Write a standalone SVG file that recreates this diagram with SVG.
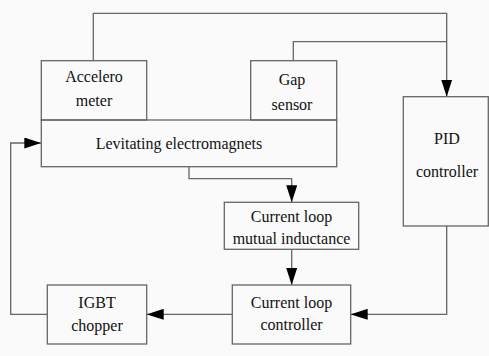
<svg xmlns="http://www.w3.org/2000/svg" width="489" height="356" viewBox="0 0 489 356">
<style>
.box{fill:none;stroke:#666;stroke-width:1.3}
.ln{fill:none;stroke:#666;stroke-width:1.3}
text{font-size:16px;fill:#111;text-anchor:middle}
</style>
<defs>
<marker id="ah" viewBox="0 0 17 11" refX="17" refY="5.5" markerWidth="17" markerHeight="11" markerUnits="userSpaceOnUse" orient="auto">
<path d="M0,0 L17,5.5 L0,11 Z" fill="#000"/>
</marker>
</defs>
<rect width="489" height="356" fill="#fafafa"/>
<g id="connectors">
<path class="ln" d="M93.3,60.7 V13.3 H446.7 V96.7" marker-end="url(#ah)"/>
<path class="ln" d="M293.3,60.7 V41.7 H446.7"/>
<path class="ln" d="M189,166.7 V178.7 H291.7 V202.3" marker-end="url(#ah)"/>
<path class="ln" d="M291.7,249.3 V285" marker-end="url(#ah)"/>
<path class="ln" d="M446.7,226 V314.3 H350.7" marker-end="url(#ah)"/>
<path class="ln" d="M232.3,314.3 H146.7" marker-end="url(#ah)"/>
<path class="ln" d="M47.3,314.3 H10.7 V143 H41.3" marker-end="url(#ah)"/>
</g>
<g font-family="Liberation Serif, serif">
<g id="accelerometer">
<rect class="box" x="41.3" y="60.7" width="105.4" height="59.3"/>
<text x="94" y="81.7">Accelero</text>
<text x="94" y="106">meter</text>
</g>
<g id="gap-sensor">
<rect class="box" x="250.7" y="60.7" width="86" height="59.3"/>
<text x="292" y="85">Gap</text>
<text x="292" y="110">sensor</text>
</g>
<g id="levitating-electromagnets">
<rect class="box" x="41.3" y="120" width="295.4" height="46.7"/>
<text x="179" y="149">Levitating electromagnets</text>
</g>
<g id="pid-controller">
<rect class="box" x="403.3" y="96.7" width="85" height="129.3"/>
<text x="447" y="144">PID</text>
<text x="447" y="176.7">controller</text>
</g>
<g id="current-loop-mutual">
<rect class="box" x="224.3" y="202.3" width="134.4" height="47"/>
<text x="291.5" y="222.3">Current loop</text>
<text x="291.5" y="244">mutual inductance</text>
</g>
<g id="current-loop-controller">
<rect class="box" x="232.3" y="285" width="118.4" height="59"/>
<text x="291.5" y="307.7">Current loop</text>
<text x="291.5" y="330">controller</text>
</g>
<g id="igbt-chopper">
<rect class="box" x="47.3" y="285" width="99.4" height="59"/>
<text x="97" y="308.3">IGBT</text>
<text x="97" y="331">chopper</text>
</g>
</g>
</svg>
